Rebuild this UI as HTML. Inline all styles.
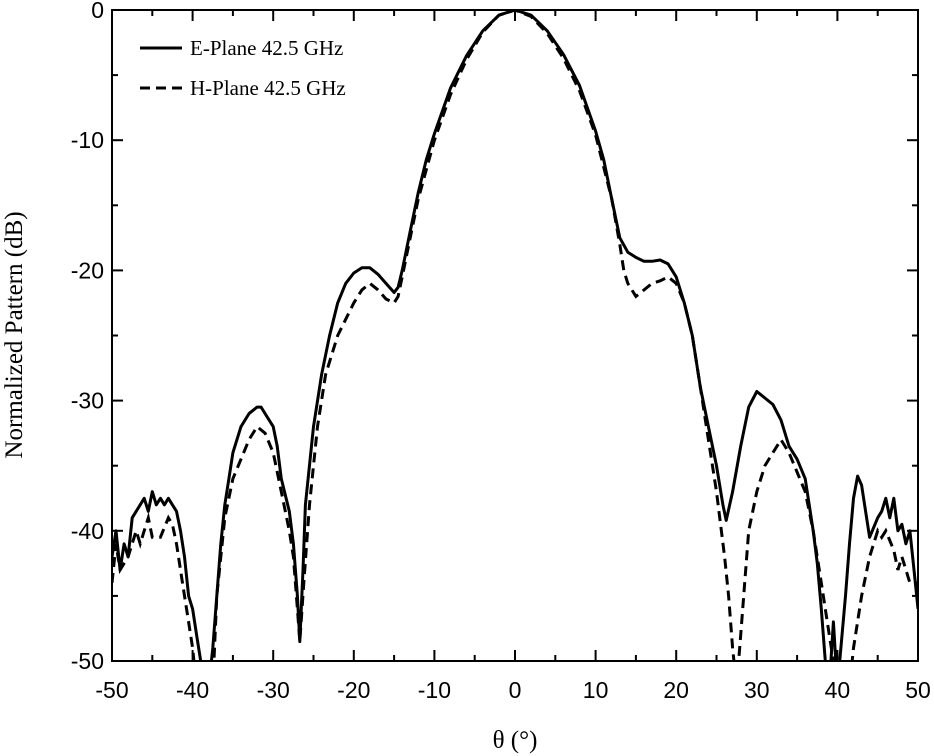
<!DOCTYPE html>
<html><head><meta charset="utf-8"><style>
body{margin:0;background:#fff}
svg{display:block}
.tk{font-family:"Liberation Sans",sans-serif;font-size:23px;fill:#000}
.sr{font-family:"Liberation Serif",serif;fill:#000}
</style></head><body>
<svg id="chart" width="934" height="756">
<defs><clipPath id="cp"><rect x="112" y="10" width="806" height="651"/></clipPath></defs>
<g id="axes"></g>
<g id="series" clip-path="url(#cp)"></g>
<rect x="112" y="10" width="806" height="651" fill="none" stroke="#000" stroke-width="2"/>
<g>
<line x1="140" y1="48" x2="182" y2="48" stroke="#000" stroke-width="3"/>
<text x="190" y="55" class="sr" font-size="21">E-Plane 42.5 GHz</text>
<line x1="140" y1="88" x2="182" y2="88" stroke="#000" stroke-width="3" stroke-dasharray="10,6"/>
<text x="190" y="95" class="sr" font-size="21">H-Plane 42.5 GHz</text>
</g>
<text transform="translate(22,335) rotate(-90)" text-anchor="middle" class="sr" font-size="25">Normalized Pattern (dB)</text>
<text x="515" y="748" text-anchor="middle" class="sr" font-size="25">θ (°)</text>
</svg>
<script>
const xTicks=[-50,-40,-30,-20,-10,0,10,20,30,40,50];
const yTicks=[0,-10,-20,-30,-40,-50];
const eTheta=[-50,-49.5,-49,-48.5,-48,-47.5,-47,-46.5,-46,-45.5,-45,-44.5,-44,-43.5,-43,-42.5,-42,-41.5,-41,-40.5,-40,-39.5,-39,-38.5,-38,-37.5,-37,-36.5,-36,-35.5,-35,-34,-33,-32,-31.5,-31,-30,-29.5,-29,-28,-27.5,-27,-26.7,-26.3,-26,-25,-24,-23,-22,-21,-20,-19,-18,-17,-16,-15,-14.5,-14,-13,-12,-11,-10,-8,-6,-4,-2,0,2,4,6,8,10,11,12,13,14,15,16,17,18,19,20,21,22,23,24,25,25.8,26.2,27,28,29,30,31,32,33,34,35,36,37,37.5,38,38.5,39,39.5,40,41,41.5,42,42.5,43,43.5,44,45,45.5,46,46.5,47,47.5,48,48.5,49,49.5,50];
const eVals=[-42,-40,-43,-41,-42,-39,-38.5,-38,-37.5,-38.5,-37,-38,-37.5,-38,-37.5,-38,-38.5,-40,-42,-45,-46,-48,-50,-52,-52,-49,-45,-41,-38,-36,-34,-32,-31,-30.5,-30.5,-31,-32,-33.5,-36,-38.5,-41,-45,-48.5,-43,-38,-32,-28,-25,-22.5,-21,-20.2,-19.8,-19.8,-20.3,-21,-21.7,-21.3,-20,-17,-14,-11.5,-9.5,-6,-3.5,-1.6,-0.4,0,-0.4,-1.6,-3.4,-5.8,-9.3,-11.5,-14.5,-17.5,-18.6,-19,-19.3,-19.3,-19.2,-19.5,-20.5,-22.5,-25,-29,-32,-35,-38,-39.2,-37,-33.5,-30.5,-29.3,-29.8,-30.3,-31.5,-33.5,-34.5,-36,-40,-42.5,-46,-50,-52,-47,-52,-45,-41,-37.5,-35.8,-36.5,-38.5,-40.5,-39,-38.5,-37.5,-39,-37.5,-40,-39.5,-41,-40,-43,-46];
const hTheta=[-50,-49.5,-49,-48,-47,-46.5,-46,-45.5,-45,-44,-43,-42.5,-42,-41.5,-41,-40.5,-40,-39.5,-37.5,-37,-36,-35,-34,-33,-32,-31,-30,-29,-28,-27.5,-27,-26.7,-26.2,-25.5,-24.5,-23.5,-22,-20,-19,-18,-17,-16,-15,-14.5,-14,-13,-12,-10,-8,-6,-4,-2,0,2,4,6,8,10,12,13,13.5,14,15,16,17,18,19,20,21,22,23,24,25,26,26.5,27,27.5,28,28.5,29,30,31,32,33,34,35,36,37,38,39,40,41.5,42,43,44,45,45.5,46,47,47.5,48,49,50];
const hVals=[-44,-41,-43,-42,-40,-41,-40,-39,-40.5,-40.5,-39,-39.5,-41,-43,-45,-47,-49,-52,-52,-45,-39,-36,-34.5,-33,-32,-32.5,-34,-37,-40,-42,-46,-48.5,-44,-38,-32,-28,-25,-22.5,-21.5,-21,-21.5,-22.2,-22.5,-22,-20.5,-17.5,-14.5,-10,-6.5,-3.8,-1.7,-0.4,0,-0.5,-1.8,-3.7,-6.2,-9.6,-14.5,-18,-20,-21,-22,-21.5,-21,-20.8,-20.5,-21,-22.5,-25,-29,-33,-37,-42,-45,-49,-52,-48,-44,-40,-37,-35,-34,-33,-34,-35.5,-37,-40,-44,-48,-52,-52,-49,-45,-42,-40,-40.5,-40,-41.5,-43,-42,-44,-44];
const X0=112,X1=918,Y0=10,Y1=661;
const xs=v=>X0+(v+50)/100*(X1-X0);
const ys=v=>Y0+(0-v)/50*(Y1-Y0);
const NS='http://www.w3.org/2000/svg';
const axes=document.getElementById('axes'),ser=document.getElementById('series');
function mk(t,a,p){const e=document.createElementNS(NS,t);for(const k in a)e.setAttribute(k,a[k]);p.appendChild(e);return e;}
for(let v=-50;v<=50;v+=5){
 const L=v%10===0?11:6,x=xs(v);
 const t1=mk('line',{x1:x,y1:Y1,x2:x,y2:Y1-L,stroke:'#000','stroke-width':2},axes);
 
 
 const t2=mk('line',{x1:x,y1:Y0,x2:x,y2:Y0+L,stroke:'#000','stroke-width':2},axes);
 
 
}
for(let v=0;v>=-50;v-=5){
 const L=v%10===0?11:6,y=ys(v);
 const t1=mk('line',{x1:X0,y1:y,x2:X0+L,y2:y,stroke:'#000','stroke-width':2},axes);
 
 
 const t2=mk('line',{x1:X1,y1:y,x2:X1-L,y2:y,stroke:'#000','stroke-width':2},axes);
 
 
}
xTicks.forEach(v=>{const t=mk('text',{x:xs(v),y:Y1+37,'text-anchor':'middle',class:'tk'},axes);t.textContent=v;
 
 });
yTicks.forEach(v=>{const t=mk('text',{x:X0-8,y:ys(v)+8,'text-anchor':'end',class:'tk'},axes);t.textContent=v;
 
 });
function path(th,vals){return th.map((t,i)=>(i?'L':'M')+xs(t).toFixed(1)+','+ys(vals[i]).toFixed(1)).join('');}
const pe=mk('path',{d:path(eTheta,eVals),fill:'none',stroke:'#000','stroke-width':3,'stroke-linejoin':'round'},ser);


const ph=mk('path',{d:path(hTheta,hVals),fill:'none',stroke:'#000','stroke-width':3,'stroke-dasharray':'10,6'},ser);


</script>
</body></html>
